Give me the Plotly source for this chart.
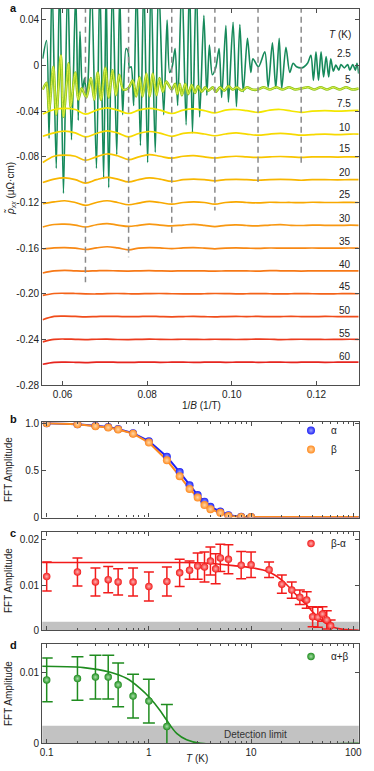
import plotly.graph_objects as go

W, H = 374, 771
FONT = "Liberation Sans, Arial, sans-serif"
TXT = "#222222"
AX = "#4d4d4d"

# ---------------- panel a data ----------------
x_25K = [0.0553,0.0562,0.0568,0.0575,0.0585,0.0593,0.0602,0.0612,0.0621,0.0631,0.0637,0.0641,0.0647,0.0652,0.0656,0.0660,0.0668,0.0680,0.0688,0.0697,0.0703,0.0709,0.0718,0.0728,0.0735,0.0742,0.0750,0.0755,0.0758,0.0762,0.0768,0.0775,0.0784,0.0792,0.0801,0.0809,0.0819,0.0827,0.0839,0.0847,0.0853,0.0859,0.0866,0.0872,0.0882,0.0892,0.0900,0.0907,0.0916,0.0924,0.0934,0.0941,0.0947,0.0954,0.0962,0.0970,0.0976,0.0986,0.0992,0.1003,0.1011,0.1019,0.1027,0.1037,0.1045,0.1050,0.1063,0.1078,0.1086,0.1096,0.1104,0.1112,0.1118,0.1128,0.1137,0.1145,0.1153,0.1165,0.1171,0.1179,0.1187,0.1193,0.1199,0.1205,0.1211,0.1217,0.1223,0.1229,0.1234,0.1240,0.1246,0.1253,0.1258,0.1266,0.1274,0.1279,0.1286,0.1292,0.1296,0.1300]
rho_25K = [0.006,0.022,-0.064,0.075,-0.090,0.075,-0.112,0.075,-0.065,0.065,-0.048,0.030,-0.021,-0.011,-0.026,-0.014,0.075,-0.090,0.075,-0.099,0.075,-0.107,0.075,-0.078,0.065,-0.043,0.015,0.012,-0.002,-0.001,-0.035,0.075,-0.070,0.075,-0.085,0.075,-0.076,0.075,-0.043,0.040,-0.006,-0.001,0.015,-0.035,0.075,-0.052,0.075,-0.059,0.075,-0.045,0.044,-0.026,0.018,-0.008,-0.002,0.015,-0.028,0.035,-0.032,0.038,-0.036,0.036,-0.023,0.024,-0.006,0.006,-0.001,0.012,-0.019,0.020,-0.020,0.024,-0.020,0.016,-0.006,0.002,-0.001,-0.002,-0.001,0.002,0.009,-0.013,0.012,-0.013,0.012,-0.010,0.008,-0.010,0.006,-0.005,0.0005,-0.004,0.001,-0.002,0.001,-0.004,0.001,-0.004,0.002,-0.007]

x_5K = [0.0553,0.0562,0.0568,0.0578,0.0585,0.0596,0.0602,0.0614,0.0619,0.0630,0.0637,0.0645,0.0656,0.0667,0.0675,0.0683,0.0691,0.0701,0.0709,0.0718,0.0726,0.0734,0.0743,0.0755,0.0766,0.0774,0.0782,0.0789,0.0798,0.0806,0.0813,0.0822,0.0829,0.0837,0.0845,0.0858,0.0866,0.0871,0.0877,0.0882,0.0890,0.0897,0.0905,0.0913,0.0920,0.0929,0.0937,0.0945,0.0955,0.0962,0.0972,0.0982,0.0992,0.1002,0.1012,0.1024,0.1036,0.1048,0.1062,0.1075,0.1090,0.1105,0.1120,0.1135,0.1150,0.1165,0.1180,0.1195,0.1210,0.1225,0.1240,0.1255,0.1270,0.1285,0.1300]
rho_5K = [-0.021,-0.015,-0.039,-0.001,-0.043,0.009,-0.045,0.002,-0.036,-0.006,-0.030,-0.020,-0.028,-0.011,-0.030,-0.006,-0.030,-0.002,-0.028,-0.004,-0.026,-0.008,-0.021,-0.020,-0.013,-0.027,-0.010,-0.027,-0.007,-0.027,-0.007,-0.026,-0.011,-0.023,-0.014,-0.021,-0.016,-0.025,-0.016,-0.026,-0.016,-0.025,-0.017,-0.024,-0.018,-0.023,-0.019,-0.022,-0.019,-0.023,-0.019,-0.022,-0.018,-0.021,-0.019,-0.022,-0.019,-0.021,-0.021,-0.019,-0.021,-0.019,-0.021,-0.019,-0.021,-0.020,-0.019,-0.021,-0.019,-0.021,-0.019,-0.021,-0.019,-0.021,-0.020]

x_hiT = [0.0553,0.0580,0.0605,0.0630,0.0654,0.0680,0.0705,0.0730,0.0756,0.0780,0.0805,0.0830,0.0858,0.0885,0.0910,0.0935,0.0960,0.0985,0.1010,0.1035,0.1062,0.1090,0.1115,0.1140,0.1164,0.1190,0.1220,0.1250,0.1280,0.1300]
rho_7p5K = [-0.0425,-0.0385,-0.0375,-0.0385,-0.0425,-0.0390,-0.0370,-0.0390,-0.0420,-0.0390,-0.0375,-0.0390,-0.0420,-0.0390,-0.0380,-0.0395,-0.0415,-0.0390,-0.0385,-0.0395,-0.0410,-0.0390,-0.0385,-0.0398,-0.0410,-0.0400,-0.0395,-0.0400,-0.0395,-0.0392]
rho_10K = [-0.0620,-0.0590,-0.0575,-0.0590,-0.0625,-0.0595,-0.0572,-0.0590,-0.0625,-0.0595,-0.0578,-0.0592,-0.0620,-0.0595,-0.0588,-0.0600,-0.0615,-0.0600,-0.0590,-0.0600,-0.0610,-0.0600,-0.0595,-0.0600,-0.0610,-0.0605,-0.0600,-0.0605,-0.0600,-0.0600]
rho_15K = [-0.0850,-0.0795,-0.0785,-0.0795,-0.0830,-0.0800,-0.0775,-0.0790,-0.0825,-0.0800,-0.0780,-0.0795,-0.0812,-0.0795,-0.0790,-0.0800,-0.0810,-0.0800,-0.0795,-0.0800,-0.0805,-0.0800,-0.0797,-0.0800,-0.0805,-0.0800,-0.0800,-0.0802,-0.0800,-0.0800]
rho_20K = [-0.1025,-0.0995,-0.0985,-0.1000,-0.1030,-0.1000,-0.0980,-0.0995,-0.1020,-0.1000,-0.0985,-0.0995,-0.1015,-0.1000,-0.0995,-0.1000,-0.1010,-0.1000,-0.0997,-0.1000,-0.1005,-0.1000,-0.0998,-0.1000,-0.1005,-0.1000,-0.1000,-0.1002,-0.1000,-0.1000]
rho_25K_T = [-0.1210,-0.1195,-0.1185,-0.1200,-0.1225,-0.1200,-0.1185,-0.1200,-0.1220,-0.1205,-0.1190,-0.1200,-0.1215,-0.1200,-0.1195,-0.1200,-0.1215,-0.1200,-0.1195,-0.1200,-0.1203,-0.1198,-0.1200,-0.1200,-0.1202,-0.1198,-0.1200,-0.1200,-0.1199,-0.1200]
rho_30K = [-0.1415,-0.1393,-0.1390,-0.1398,-0.1415,-0.1395,-0.1385,-0.1398,-0.1410,-0.1400,-0.1390,-0.1398,-0.1405,-0.1398,-0.1392,-0.1400,-0.1412,-0.1400,-0.1396,-0.1402,-0.1405,-0.1398,-0.1395,-0.1400,-0.1402,-0.1398,-0.1400,-0.1401,-0.1399,-0.1400]
rho_35K = [-0.1608,-0.1598,-0.1595,-0.1600,-0.1612,-0.1598,-0.1588,-0.1598,-0.1615,-0.1600,-0.1595,-0.1598,-0.1605,-0.1598,-0.1596,-0.1600,-0.1606,-0.1600,-0.1598,-0.1600,-0.1603,-0.1599,-0.1600,-0.1601,-0.1600,-0.1599,-0.1601,-0.1600,-0.1599,-0.1600]
rho_40K = [-0.1818,-0.1800,-0.1796,-0.1800,-0.1802,-0.1799,-0.1797,-0.1800,-0.1801,-0.1799,-0.1798,-0.1800,-0.1801,-0.1799,-0.1800,-0.1800,-0.1802,-0.1800,-0.1799,-0.1800,-0.1801,-0.1797,-0.1799,-0.1800,-0.1801,-0.1800,-0.1799,-0.1800,-0.1800,-0.1800]
rho_45K = [-0.2015,-0.1998,-0.1996,-0.1998,-0.2001,-0.2002,-0.1999,-0.1998,-0.2000,-0.2001,-0.1999,-0.1998,-0.2000,-0.2001,-0.2002,-0.2000,-0.1998,-0.1999,-0.2001,-0.2000,-0.1999,-0.2000,-0.2001,-0.2000,-0.1999,-0.2000,-0.2001,-0.2000,-0.1999,-0.2000]
rho_50K = [-0.2228,-0.2199,-0.2196,-0.2199,-0.2202,-0.2200,-0.2198,-0.2199,-0.2201,-0.2200,-0.2198,-0.2200,-0.2202,-0.2200,-0.2199,-0.2201,-0.2203,-0.2200,-0.2199,-0.2200,-0.2199,-0.2201,-0.2200,-0.2199,-0.2200,-0.2201,-0.2199,-0.2200,-0.2200,-0.2200]
rho_55K = [-0.2422,-0.2400,-0.2397,-0.2400,-0.2402,-0.2399,-0.2398,-0.2401,-0.2402,-0.2400,-0.2398,-0.2400,-0.2401,-0.2399,-0.2400,-0.2401,-0.2399,-0.2400,-0.2401,-0.2400,-0.2398,-0.2399,-0.2402,-0.2400,-0.2399,-0.2400,-0.2401,-0.2400,-0.2399,-0.2400]
rho_60K = [-0.2618,-0.2602,-0.2600,-0.2601,-0.2603,-0.2600,-0.2599,-0.2601,-0.2602,-0.2600,-0.2599,-0.2601,-0.2600,-0.2599,-0.2602,-0.2600,-0.2599,-0.2601,-0.2600,-0.2599,-0.2601,-0.2600,-0.2599,-0.2602,-0.2600,-0.2599,-0.2601,-0.2600,-0.2599,-0.2600]

temp_labels = ["2.5","5","7.5","10","15","20","25","30","35","40","45","50","55","60"]
label_y = [0.011,-0.0126,-0.033,-0.054,-0.073,-0.094,-0.113,-0.134,-0.154,-0.174,-0.194,-0.2145,-0.2345,-0.2547]

beat_node_x = [0.0654,0.0756,0.0858,0.0960,0.1062,0.1164]
beat_node_bottom = [-0.190,-0.168,-0.150,-0.127,-0.102,-0.087]

# ---------------- panel b data ----------------
T_b = [0.1,0.2,0.3,0.4,0.5,0.7,1.0,1.5,2.0,2.5,3.0,3.5,4.0,5.0,6.0,8.0,10.0]
amp_alpha = [1.0,0.99,0.975,0.96,0.94,0.895,0.81,0.645,0.48,0.34,0.235,0.165,0.11,0.06,0.02,0.004,0.001]
amp_beta = [1.0,0.99,0.97,0.955,0.935,0.89,0.795,0.606,0.436,0.301,0.21,0.128,0.085,0.046,0.011,0.002,0.0]
T_b_tail = [115]
amp_tail = [0.0]

# ---------------- panel c data ----------------
T_c = [0.1,0.2,0.3,0.4,0.5,0.7,1.0,1.5,2.0,2.5,3.0,3.5,4.0,4.5,5.0,6.0,8.0,10,15,20,25,30,35,40,45,50,55,60]
amp_bma = [0.0119,0.0129,0.0107,0.0112,0.0107,0.0107,0.0097,0.0108,0.0127,0.0133,0.0142,0.0140,0.0153,0.0136,0.0160,0.0157,0.0144,0.0145,0.0134,0.0102,0.0089,0.0073,0.0067,0.0030,0.0029,0.0036,0.0023,0.0010]
err_bma = [0.0032,0.0031,0.0031,0.0029,0.0029,0.0031,0.0032,0.0032,0.0030,0.0020,0.0029,0.0033,0.0031,0.0033,0.0030,0.0032,0.0030,0.0028,0.0017,0.0020,0.0018,0.0016,0.0018,0.0022,0.0022,0.0016,0.0020,0.0013]
T_fit_c = [0.09,1,2,3,4,5,6.7,10,15,20,25,30,35,40,47,57,69,86,115]
fit_bma = [0.0150,0.0150,0.01498,0.01492,0.0148,0.0146,0.0143,0.01385,0.0129,0.0111,0.0089,0.0070,0.0056,0.0041,0.0026,0.0012,0.00044,0.00015,0.0]
det_limit_c = 0.0019

# ---------------- panel d data ----------------
T_d = [0.1,0.2,0.3,0.4,0.5,0.7,1.0,1.5]
amp_apb = [0.0090,0.0092,0.0094,0.0094,0.0083,0.0067,0.0060,0.0024]
err_apb = [0.0031,0.0031,0.0031,0.0031,0.0031,0.0031,0.0031,0.0031]
T_fit_d = [0.09,0.23,0.42,0.61,0.82,1.03,1.28,1.49,1.87,2.34,3.2,115]
fit_apb = [0.01095,0.01075,0.0101,0.0092,0.0078,0.0064,0.0047,0.0033,0.0014,0.0005,0.0,0.0]
det_limit_d = 0.0025

# ---------------- styling ----------------
colors_a = ["#178a5b", "#a3d21a", "#f3e600", "#f7d900", "#f8c500", "#f8b600",
            "#f8a800", "#f89812", "#f88814", "#f77816", "#f46218", "#f04c1a",
            "#ec3a1c", "#e6241e"]
series_a = [(x_25K, rho_25K), (x_5K, rho_5K), (x_hiT, rho_7p5K), (x_hiT, rho_10K),
            (x_hiT, rho_15K), (x_hiT, rho_20K), (x_hiT, rho_25K_T), (x_hiT, rho_30K),
            (x_hiT, rho_35K), (x_hiT, rho_40K), (x_hiT, rho_45K), (x_hiT, rho_50K),
            (x_hiT, rho_55K), (x_hiT, rho_60K)]

BLUE, ORANGE, RED, GREEN = "#1f22f5", "#ff8a1e", "#f21b1b", "#1f8c1f"

XDOM = [42.3 / W, 358.7 / W]
DOM_A = [1 - 385 / H, 1 - 9 / H]
DOM_B = [1 - 517.5 / H, 1 - 422.3 / H]
DOM_C = [1 - 630.3 / H, 1 - 531.7 / H]
DOM_D = [1 - 743.3 / H, 1 - 644 / H]
A_YRANGE = [-0.28, 0.0496]

fig = go.Figure()

# panel a traces
for i, ((xs, ys), col) in enumerate(zip(series_a, colors_a)):
    assert len(xs) == len(ys)
    if i == 1:
        fig.add_trace(go.Scatter(x=xs, y=ys, mode="lines", xaxis="x", yaxis="y",
                                 line=dict(color="#8cc31c", width=2.6, shape="spline", smoothing=0.8),
                                 showlegend=False, hoverinfo="skip"))
        fig.add_trace(go.Scatter(x=xs, y=ys, mode="lines", xaxis="x", yaxis="y",
                                 line=dict(color="#e4f24a", width=1.0, shape="spline", smoothing=0.8),
                                 showlegend=False, hoverinfo="skip"))
    else:
        fig.add_trace(go.Scatter(x=xs, y=ys, mode="lines", xaxis="x", yaxis="y",
                                 line=dict(color=col, width=1.6 if i == 0 else 1.7,
                                           shape="spline", smoothing=0.8 if i == 0 else 1.0),
                                 showlegend=False, hoverinfo="skip"))

for nx, nb in zip(beat_node_x, beat_node_bottom):
    fig.add_trace(go.Scatter(x=[nx, nx], y=[A_YRANGE[1] + 0.002, nb], mode="lines",
                             xaxis="x", yaxis="y", showlegend=False, hoverinfo="skip",
                             line=dict(color="#8a8a8a", width=1.5, dash="6px,4px")))

# panel b
def ball(col, light, size):
    return dict(size=size, color=col, line=dict(width=0),
                gradient=dict(type="radial", color=light))

fig.add_trace(go.Scatter(x=T_b + T_b_tail, y=amp_alpha + amp_tail, mode="lines", xaxis="x2", yaxis="y2",
                         line=dict(color=BLUE, width=2), showlegend=False, hoverinfo="skip"))
fig.add_trace(go.Scatter(x=T_b + T_b_tail, y=amp_beta + amp_tail, mode="lines", xaxis="x2", yaxis="y2",
                         line=dict(color=ORANGE, width=2), showlegend=False, hoverinfo="skip"))
fig.add_trace(go.Scatter(x=T_b, y=amp_alpha, mode="markers", xaxis="x2", yaxis="y2", name="α",
                         marker=ball(BLUE, "#9aa0ff", 8), legend="legend"))
fig.add_trace(go.Scatter(x=T_b, y=amp_beta, mode="markers", xaxis="x2", yaxis="y2", name="β",
                         marker=ball(ORANGE, "#ffd7a8", 8), legend="legend"))

# panel c
fig.add_trace(go.Scatter(x=T_fit_c, y=fit_bma, mode="lines", xaxis="x3", yaxis="y3",
                         line=dict(color=RED, width=1.6, shape="spline"), showlegend=False, hoverinfo="skip"))
fig.add_trace(go.Scatter(x=T_c, y=amp_bma, mode="markers", xaxis="x3", yaxis="y3", name="β-α",
                         marker=ball(RED, "#ffb0b0", 7.5), legend="legend2",
                         error_y=dict(type="data", array=err_bma, color=RED, thickness=1.5, width=5)))

# panel d
fig.add_trace(go.Scatter(x=T_fit_d, y=fit_apb, mode="lines", xaxis="x4", yaxis="y4",
                         line=dict(color=GREEN, width=1.6, shape="spline"), showlegend=False, hoverinfo="skip"))
fig.add_trace(go.Scatter(x=T_d, y=amp_apb, mode="markers", xaxis="x4", yaxis="y4", name="α+β",
                         marker=ball(GREEN, "#a6e0a6", 7.5), legend="legend3",
                         error_y=dict(type="data", array=err_apb, color=GREEN, thickness=1.5, width=6)))


def axis(**kw):
    d = dict(showline=True, linecolor=AX, linewidth=1.3, mirror="ticks", ticks="inside",
             ticklen=4, tickwidth=1, tickcolor=AX, showgrid=False, zeroline=False,
             tickfont=dict(family=FONT, size=10, color=TXT), automargin=False)
    d.update(kw)
    return d

minor_log = dict(ticks="inside", ticklen=2, tickcolor=AX, showgrid=False,
                 tickvals=[0.2,0.3,0.4,0.5,0.6,0.7,0.8,0.9,2,3,4,5,6,7,8,9,20,30,40,50,60,70,80,90])
LOGR = [-1.043, 2.053]

def legend_at(top_px):
    return dict(x=291 / W, y=1 - top_px / H, xanchor="left", yanchor="top",
                bgcolor="rgba(0,0,0,0)", font=dict(family=FONT, size=10, color=TXT),
                itemwidth=30, tracegroupgap=0)

fig.update_layout(
    width=W, height=H, margin=dict(l=0, r=0, t=0, b=0),
    paper_bgcolor="white", plot_bgcolor="white",
    font=dict(family=FONT, size=10, color=TXT),
    xaxis=axis(domain=XDOM, anchor="y", range=[0.0552, 0.1300],
               tickvals=[0.06, 0.08, 0.10, 0.12], ticktext=["0.06", "0.08", "0.10", "0.12"]),
    yaxis=axis(domain=DOM_A, anchor="x", range=A_YRANGE,
               tickvals=[-0.28, -0.24, -0.20, -0.16, -0.12, -0.08, -0.04, 0, 0.04],
               ticktext=["-0.28", "-0.24", "-0.20", "-0.16", "-0.12", "-0.08", "-0.04", "0", "0.04"]),
    xaxis2=axis(domain=XDOM, anchor="y2", type="log", range=LOGR, tickvals=[0.1, 1, 10, 100],
                showticklabels=False, minor=minor_log),
    yaxis2=axis(domain=DOM_B, anchor="x2", range=[-0.004, 1.011], tickvals=[0, 0.5, 1.0],
                ticktext=["0", "0.5", "1.0"]),
    xaxis3=axis(domain=XDOM, anchor="y3", type="log", range=LOGR, tickvals=[0.1, 1, 10, 100],
                showticklabels=False, minor=minor_log),
    yaxis3=axis(domain=DOM_C, anchor="x3", range=[0, 0.0218], tickvals=[0, 0.01, 0.02],
                ticktext=["0", "0.01", "0.02"]),
    xaxis4=axis(domain=XDOM, anchor="y4", type="log", range=LOGR, tickvals=[0.1, 1, 10, 100],
                ticktext=["0.1", "1", "10", "100"], minor=minor_log),
    yaxis4=axis(domain=DOM_D, anchor="x4", range=[0, 0.0141], tickvals=[0, 0.01],
                ticktext=["0", "0.01"]),
    legend=legend_at(416),
    legend2=legend_at(529),
    legend3=legend_at(642),
)

shapes = [
    dict(type="rect", xref="x3 domain", yref="y3", x0=0, x1=1, y0=0, y1=det_limit_c,
         fillcolor="#c2c2c2", line=dict(width=0), layer="below"),
    dict(type="rect", xref="x4 domain", yref="y4", x0=0, x1=1, y0=0, y1=det_limit_d,
         fillcolor="#c2c2c2", line=dict(width=0), layer="below"),
]
fig.update_layout(shapes=shapes)

ann = []
for lab, ly in zip(temp_labels, label_y):
    ann.append(dict(x=0.1286, y=ly, xref="x", yref="y", text=lab, showarrow=False,
                    xanchor="right", yanchor="middle", font=dict(family=FONT, size=10, color=TXT)))
ann.append(dict(x=0.1286, y=0.027, xref="x", yref="y", text="<i>T</i> (K)", showarrow=False,
                xanchor="right", yanchor="middle", font=dict(family=FONT, size=10, color=TXT)))
# panel letters
for letter, py in [("a", 8), ("b", 419), ("c", 533), ("d", 645)]:
    ann.append(dict(x=13 / W, y=1 - py / H, xref="paper", yref="paper", text="<b>%s</b>" % letter,
                    showarrow=False, xanchor="center", yanchor="middle",
                    font=dict(family=FONT, size=11, color="#111111")))
# axis titles
ann.append(dict(x=10 / W, y=1 - 189 / H, xref="paper", yref="paper", textangle=-90,
                text="<i>ρ̃</i><sub><i>xx</i></sub> (μΩ·cm)", showarrow=False,
                xanchor="center", yanchor="middle", font=dict(family=FONT, size=10, color=TXT)))
for py in [470, 581, 694]:
    ann.append(dict(x=8 / W, y=1 - py / H, xref="paper", yref="paper", textangle=-90,
                    text="FFT Amplitude", showarrow=False, xanchor="center", yanchor="middle",
                    font=dict(family=FONT, size=10, color=TXT)))
ann.append(dict(x=201 / W, y=1 - 405 / H, xref="paper", yref="paper", text="1/<i>B</i> (1/T)",
                showarrow=False, xanchor="center", yanchor="middle",
                font=dict(family=FONT, size=10, color=TXT)))
ann.append(dict(x=197 / W, y=1 - 758 / H, xref="paper", yref="paper", text="<i>T</i> (K)",
                showarrow=False, xanchor="center", yanchor="middle",
                font=dict(family=FONT, size=10, color=TXT)))
ann.append(dict(x=1.04, y=det_limit_d / 2, xref="x4", yref="y4", text="Detection limit",
                showarrow=False, xanchor="center", yanchor="middle",
                font=dict(family=FONT, size=10, color="#333333")))
fig.update_layout(annotations=ann)

fig.write_html("out.html", config={"displayModeBar": False},
               post_script="document.body.style.margin='0px';document.body.style.overflow='hidden';")
